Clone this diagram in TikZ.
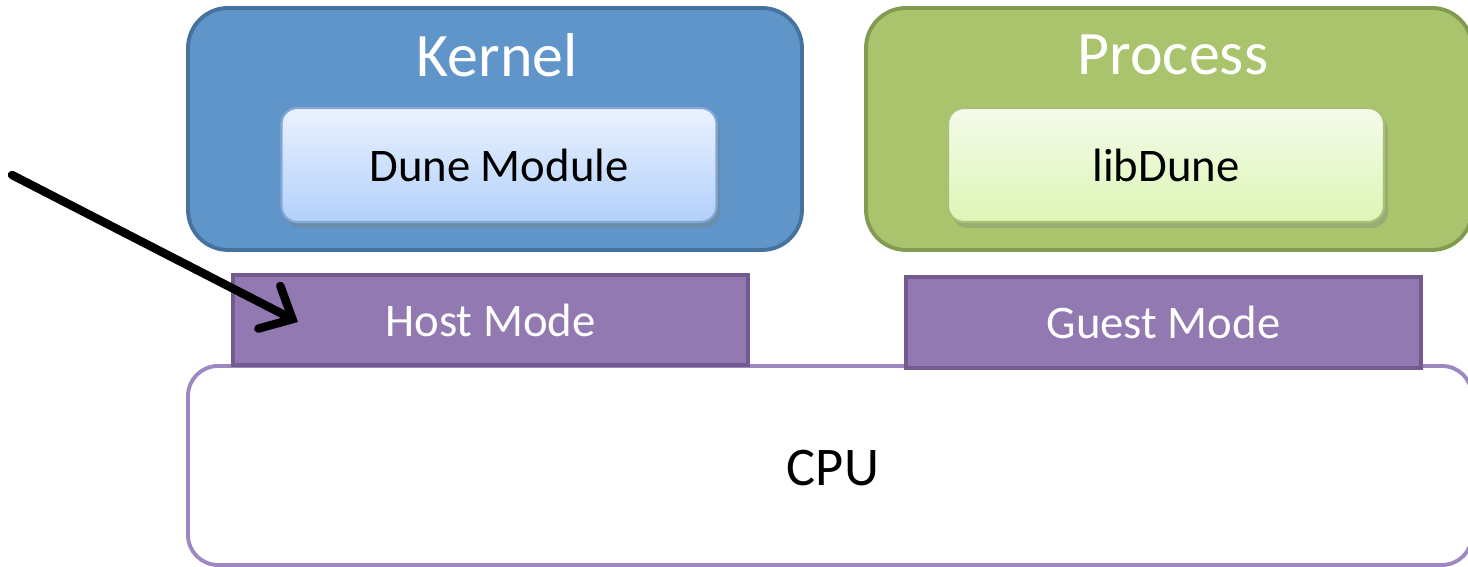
\documentclass[tikz,border=0pt]{standalone}
\usepackage{fontspec}
\setmainfont{Carlito}
\usepackage{tikz}
\usetikzlibrary{shapes,arrows.meta,positioning,shadows}

\definecolor{kernelfill}{HTML}{5F95C8}
\definecolor{kerneldraw}{HTML}{45729F}
\definecolor{procfill}{HTML}{A9C46C}
\definecolor{procdraw}{HTML}{829B52}
\definecolor{modefill}{HTML}{9379B2}
\definecolor{modedraw}{HTML}{735B8F}
\definecolor{cpudraw}{HTML}{9E88C1}
\definecolor{dunetop}{HTML}{EAF2FE}
\definecolor{dunebot}{HTML}{B2D0FB}
\definecolor{dunedraw}{HTML}{86A8D6}
\definecolor{libtop}{HTML}{F4FBEA}
\definecolor{libbot}{HTML}{DDF5B5}
\definecolor{libdraw}{HTML}{A9C175}

\begin{document}
\begin{tikzpicture}
                %% setup
                [
                    outerbox/.style={rectangle, rounded corners=4mm, line width=1.1pt, inner sep=0pt, minimum width=61.4mm, minimum height=24.2mm},
                    innerbox/.style={rectangle, rounded corners=1.6mm, line width=0.6pt, inner sep=0pt, minimum width=43.5mm, minimum height=11.4mm, drop shadow={opacity=0.35, shadow xshift=0.4mm, shadow yshift=-0.6mm}, font=\fontsize{13.3}{15}\selectfont},
                    modebox/.style={rectangle, fill=modefill, draw=modedraw, line width=1.1pt, inner sep=0pt, minimum width=51.5mm, minimum height=9.0mm, text=white, font=\fontsize{13.3}{15}\selectfont},
                    titletext/.style={text=white, font=\fontsize{17.6}{20}\selectfont},
                ]
                    \useasboundingbox (0,0) rectangle (14.68,5.67);
                    %% Nodes
                    \node [outerbox, fill=kernelfill, draw=kerneldraw] (kernelbox) at (4.95,4.38) {};
                    \node [outerbox, fill=procfill, draw=procdraw, minimum width=60.6mm] (processbox) at (11.69,4.38) {};
                    \node [titletext] (kerneltext) at (4.97,5.12) {Kernel};
                    \node [titletext] (processtext) at (11.73,5.12) {Process};
                    \node [innerbox, top color=dunetop, bottom color=dunebot, draw=dunedraw] (dunenode) at (4.99,4.02) {Dune Module};
                    \node [innerbox, top color=libtop, bottom color=libbot, draw=libdraw, minimum width=43.6mm] (libdunenode) at (11.66,4.02) {libDune};
                    \node [rectangle, rounded corners=3mm, draw=cpudraw, fill=white, line width=1.1pt, inner sep=0pt, minimum width=128.4mm, minimum height=19.9mm] (cpunode) at (8.30,1.015) {};
                    \node [font=\fontsize{15.5}{18}\selectfont] (cputext) at (8.33,0.99) {CPU};
                    \node [modebox] (hostnode) at (4.905,2.47) {Host Mode};
                    \node [modebox, minimum height=9.1mm] (guestnode) at (11.635,2.445) {Guest Mode};
                    %% Lines
                    \coordinate (arrowtail) at (0.12,3.92);
                    \coordinate (arrowtip) at (2.98,2.45);
                    \draw [-{Straight Barb[length=2.6mm, width=4.8mm, line width=2.4pt, line cap=round]}, line width=2.4pt, line cap=round] (arrowtail) -- (arrowtip);
                \end{tikzpicture}
\end{document}
